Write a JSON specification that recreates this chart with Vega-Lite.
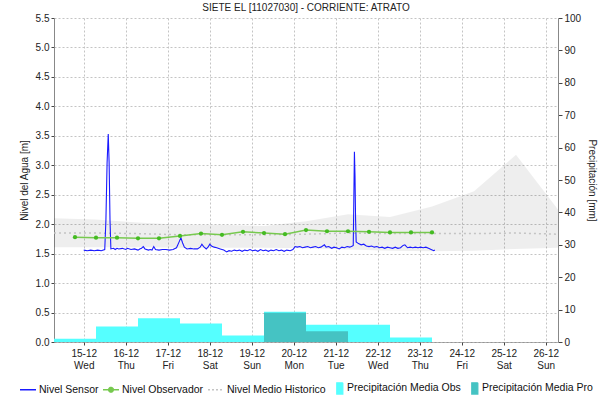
{
  "$schema": "https://vega.github.io/schema/vega-lite/v6.json",
  "width": 504,
  "height": 324,
  "autosize": {"type": "none"},
  "padding": {"left": 54, "top": 18, "right": 45, "bottom": 62},
  "title": {"text": "SIETE EL [11027030] - CORRIENTE: ATRATO", "fontSize": 10, "fontWeight": "normal", "font": "Liberation Sans", "color": "#222222", "offset": 0, "anchor": "middle", "frame": "group"},
  "datasets": {
    "band": [
      {"t": "2021-12-14T07:00", "lo": 1.61, "hi": 2.1, "mean": 1.85},
      {"t": "2021-12-15T07:00", "lo": 1.61, "hi": 2.08, "mean": 1.85},
      {"t": "2021-12-16T07:00", "lo": 1.61, "hi": 2.03, "mean": 1.84},
      {"t": "2021-12-17T07:00", "lo": 1.6, "hi": 1.99, "mean": 1.82},
      {"t": "2021-12-18T07:00", "lo": 1.6, "hi": 1.99, "mean": 1.82},
      {"t": "2021-12-19T07:00", "lo": 1.6, "hi": 1.97, "mean": 1.82},
      {"t": "2021-12-20T07:00", "lo": 1.59, "hi": 2.05, "mean": 1.83},
      {"t": "2021-12-21T07:00", "lo": 1.57, "hi": 2.17, "mean": 1.85},
      {"t": "2021-12-22T07:00", "lo": 1.55, "hi": 2.12, "mean": 1.84},
      {"t": "2021-12-23T07:00", "lo": 1.54, "hi": 2.3, "mean": 1.84},
      {"t": "2021-12-24T07:00", "lo": 1.55, "hi": 2.56, "mean": 1.84},
      {"t": "2021-12-25T07:00", "lo": 1.58, "hi": 3.18, "mean": 1.85},
      {"t": "2021-12-26T07:00", "lo": 1.6, "hi": 2.25, "mean": 1.83}
    ],
    "sensor": [
      {"t": "2021-12-15T00:00", "v": 1.56}, {"t": "2021-12-15T02:00", "v": 1.55}, {"t": "2021-12-15T04:00", "v": 1.56},
      {"t": "2021-12-15T06:00", "v": 1.55}, {"t": "2021-12-15T08:00", "v": 1.56}, {"t": "2021-12-15T10:00", "v": 1.55},
      {"t": "2021-12-15T12:00", "v": 1.57}, {"t": "2021-12-15T12:40", "v": 2.07}, {"t": "2021-12-15T13:20", "v": 3.04},
      {"t": "2021-12-15T14:00", "v": 3.53}, {"t": "2021-12-15T14:30", "v": 3.04}, {"t": "2021-12-15T15:00", "v": 2.07},
      {"t": "2021-12-15T15:30", "v": 1.58}, {"t": "2021-12-15T17:00", "v": 1.59}, {"t": "2021-12-15T18:00", "v": 1.57},
      {"t": "2021-12-15T19:00", "v": 1.59}, {"t": "2021-12-15T20:00", "v": 1.58}, {"t": "2021-12-15T22:00", "v": 1.59},
      {"t": "2021-12-16T00:00", "v": 1.57}, {"t": "2021-12-16T01:00", "v": 1.59}, {"t": "2021-12-16T03:00", "v": 1.57},
      {"t": "2021-12-16T05:00", "v": 1.58}, {"t": "2021-12-16T07:00", "v": 1.56}, {"t": "2021-12-16T08:00", "v": 1.58},
      {"t": "2021-12-16T09:00", "v": 1.59}, {"t": "2021-12-16T10:00", "v": 1.62}, {"t": "2021-12-16T11:00", "v": 1.58},
      {"t": "2021-12-16T13:00", "v": 1.56}, {"t": "2021-12-16T14:00", "v": 1.57}, {"t": "2021-12-16T15:00", "v": 1.56},
      {"t": "2021-12-16T16:00", "v": 1.62}, {"t": "2021-12-16T17:00", "v": 1.57}, {"t": "2021-12-16T19:00", "v": 1.56},
      {"t": "2021-12-16T21:00", "v": 1.57}, {"t": "2021-12-16T23:00", "v": 1.57},
      {"t": "2021-12-17T01:00", "v": 1.56}, {"t": "2021-12-17T03:00", "v": 1.57}, {"t": "2021-12-17T05:00", "v": 1.6},
      {"t": "2021-12-17T06:30", "v": 1.7}, {"t": "2021-12-17T07:30", "v": 1.77}, {"t": "2021-12-17T08:30", "v": 1.68},
      {"t": "2021-12-17T09:30", "v": 1.61}, {"t": "2021-12-17T11:00", "v": 1.58}, {"t": "2021-12-17T13:00", "v": 1.59},
      {"t": "2021-12-17T15:00", "v": 1.58}, {"t": "2021-12-17T17:00", "v": 1.58}, {"t": "2021-12-17T18:30", "v": 1.61},
      {"t": "2021-12-17T19:30", "v": 1.66}, {"t": "2021-12-17T20:30", "v": 1.62}, {"t": "2021-12-17T22:00", "v": 1.58},
      {"t": "2021-12-17T23:00", "v": 1.61},
      {"t": "2021-12-18T00:00", "v": 1.66}, {"t": "2021-12-18T01:00", "v": 1.63}, {"t": "2021-12-18T02:30", "v": 1.61},
      {"t": "2021-12-18T04:00", "v": 1.6}, {"t": "2021-12-18T06:00", "v": 1.58}, {"t": "2021-12-18T08:00", "v": 1.56},
      {"t": "2021-12-18T09:40", "v": 1.53}, {"t": "2021-12-18T11:00", "v": 1.55}, {"t": "2021-12-18T12:30", "v": 1.54},
      {"t": "2021-12-18T14:00", "v": 1.56}, {"t": "2021-12-18T15:30", "v": 1.55}, {"t": "2021-12-18T17:00", "v": 1.56},
      {"t": "2021-12-18T18:30", "v": 1.54}, {"t": "2021-12-18T20:00", "v": 1.56}, {"t": "2021-12-18T21:30", "v": 1.55},
      {"t": "2021-12-18T23:00", "v": 1.57},
      {"t": "2021-12-19T00:30", "v": 1.55}, {"t": "2021-12-19T02:00", "v": 1.56}, {"t": "2021-12-19T03:30", "v": 1.54},
      {"t": "2021-12-19T05:00", "v": 1.57}, {"t": "2021-12-19T06:30", "v": 1.55}, {"t": "2021-12-19T08:00", "v": 1.56},
      {"t": "2021-12-19T09:30", "v": 1.54}, {"t": "2021-12-19T11:00", "v": 1.56}, {"t": "2021-12-19T12:30", "v": 1.55},
      {"t": "2021-12-19T14:00", "v": 1.57}, {"t": "2021-12-19T15:30", "v": 1.55}, {"t": "2021-12-19T17:00", "v": 1.56},
      {"t": "2021-12-19T18:30", "v": 1.54}, {"t": "2021-12-19T20:00", "v": 1.56}, {"t": "2021-12-19T22:00", "v": 1.55},
      {"t": "2021-12-19T23:30", "v": 1.57},
      {"t": "2021-12-20T00:45", "v": 1.62}, {"t": "2021-12-20T02:00", "v": 1.61}, {"t": "2021-12-20T03:30", "v": 1.62},
      {"t": "2021-12-20T05:00", "v": 1.6}, {"t": "2021-12-20T06:30", "v": 1.61}, {"t": "2021-12-20T08:00", "v": 1.62},
      {"t": "2021-12-20T09:30", "v": 1.6}, {"t": "2021-12-20T11:00", "v": 1.61}, {"t": "2021-12-20T12:30", "v": 1.62},
      {"t": "2021-12-20T14:00", "v": 1.6}, {"t": "2021-12-20T15:30", "v": 1.61}, {"t": "2021-12-20T17:30", "v": 1.65},
      {"t": "2021-12-20T18:30", "v": 1.61}, {"t": "2021-12-20T20:00", "v": 1.62}, {"t": "2021-12-20T21:40", "v": 1.59},
      {"t": "2021-12-20T23:00", "v": 1.61},
      {"t": "2021-12-21T00:30", "v": 1.6}, {"t": "2021-12-21T02:00", "v": 1.58}, {"t": "2021-12-21T03:30", "v": 1.61},
      {"t": "2021-12-21T05:00", "v": 1.6}, {"t": "2021-12-21T06:30", "v": 1.62}, {"t": "2021-12-21T08:00", "v": 1.61},
      {"t": "2021-12-21T09:30", "v": 1.63}, {"t": "2021-12-21T10:00", "v": 1.64}, {"t": "2021-12-21T10:20", "v": 2.42},
      {"t": "2021-12-21T10:40", "v": 3.23}, {"t": "2021-12-21T11:00", "v": 2.82}, {"t": "2021-12-21T11:20", "v": 2.08},
      {"t": "2021-12-21T11:40", "v": 1.7}, {"t": "2021-12-21T13:00", "v": 1.67}, {"t": "2021-12-21T14:30", "v": 1.65},
      {"t": "2021-12-21T16:00", "v": 1.66}, {"t": "2021-12-21T17:30", "v": 1.63}, {"t": "2021-12-21T19:00", "v": 1.62},
      {"t": "2021-12-21T20:30", "v": 1.63}, {"t": "2021-12-21T22:00", "v": 1.61}, {"t": "2021-12-21T23:30", "v": 1.62},
      {"t": "2021-12-22T01:00", "v": 1.6}, {"t": "2021-12-22T02:30", "v": 1.61}, {"t": "2021-12-22T04:00", "v": 1.59},
      {"t": "2021-12-22T05:30", "v": 1.61}, {"t": "2021-12-22T07:00", "v": 1.6}, {"t": "2021-12-22T08:30", "v": 1.59},
      {"t": "2021-12-22T10:00", "v": 1.61}, {"t": "2021-12-22T11:30", "v": 1.59}, {"t": "2021-12-22T13:00", "v": 1.6},
      {"t": "2021-12-22T14:30", "v": 1.64}, {"t": "2021-12-22T15:30", "v": 1.65}, {"t": "2021-12-22T17:00", "v": 1.6},
      {"t": "2021-12-22T18:30", "v": 1.61}, {"t": "2021-12-22T20:00", "v": 1.6}, {"t": "2021-12-22T21:30", "v": 1.61},
      {"t": "2021-12-22T23:00", "v": 1.6},
      {"t": "2021-12-23T00:30", "v": 1.61}, {"t": "2021-12-23T02:00", "v": 1.6}, {"t": "2021-12-23T03:30", "v": 1.61},
      {"t": "2021-12-23T05:00", "v": 1.59}, {"t": "2021-12-23T06:30", "v": 1.57}, {"t": "2021-12-23T08:00", "v": 1.55},
      {"t": "2021-12-23T08:40", "v": 1.56}
    ],
    "observer": [
      {"t": "2021-12-14T19:00", "v": 1.78}, {"t": "2021-12-15T07:00", "v": 1.77}, {"t": "2021-12-15T19:00", "v": 1.77},
      {"t": "2021-12-16T07:00", "v": 1.76}, {"t": "2021-12-16T19:00", "v": 1.76}, {"t": "2021-12-17T07:00", "v": 1.8},
      {"t": "2021-12-17T19:00", "v": 1.84}, {"t": "2021-12-18T07:00", "v": 1.82}, {"t": "2021-12-18T19:00", "v": 1.87},
      {"t": "2021-12-19T07:00", "v": 1.85}, {"t": "2021-12-19T19:00", "v": 1.83}, {"t": "2021-12-20T07:00", "v": 1.9},
      {"t": "2021-12-20T19:00", "v": 1.88}, {"t": "2021-12-21T07:00", "v": 1.88}, {"t": "2021-12-21T19:00", "v": 1.87},
      {"t": "2021-12-22T07:00", "v": 1.86}, {"t": "2021-12-22T19:00", "v": 1.86}, {"t": "2021-12-23T07:00", "v": 1.86}
    ],
    "precip": [
      {"s": "2021-12-14T07:00", "e": "2021-12-15T07:00", "obs": 1.0},
      {"s": "2021-12-15T07:00", "e": "2021-12-16T07:00", "obs": 4.8},
      {"s": "2021-12-16T07:00", "e": "2021-12-17T07:00", "obs": 7.3},
      {"s": "2021-12-17T07:00", "e": "2021-12-18T07:00", "obs": 5.7},
      {"s": "2021-12-18T07:00", "e": "2021-12-19T07:00", "obs": 2.0},
      {"s": "2021-12-19T07:00", "e": "2021-12-20T07:00", "obs": 9.3},
      {"s": "2021-12-20T07:00", "e": "2021-12-21T07:00", "obs": 5.3},
      {"s": "2021-12-21T07:00", "e": "2021-12-22T07:00", "obs": 5.3},
      {"s": "2021-12-22T07:00", "e": "2021-12-23T07:00", "obs": 1.4}
    ],
    "precipPro": [
      {"s": "2021-12-19T07:00", "e": "2021-12-20T07:00", "pro": 9.0},
      {"s": "2021-12-20T07:00", "e": "2021-12-21T07:00", "pro": 3.3}
    ]
  },
  "layer": [
    {
      "layer": [
        {
          "data": {"name": "band"},
          "mark": {"type": "area", "color": "#000000", "opacity": 0.065},
          "encoding": {
            "x": {"field": "t", "type": "temporal",
              "scale": {"domain": [{"year": 2021, "month": 12, "date": 14, "hours": 7}, {"year": 2021, "month": 12, "date": 26, "hours": 7}]},
              "axis": {"title": null, "tickCount": {"interval": "day", "step": 1},
                "labelExpr": "[timeFormat(datum.value, '%d-%m'), timeFormat(datum.value, '%a')]",
                "labelLineHeight": 12, "labelOverlap": false, "labelFlush": false,
                "grid": true, "tickSize": 3, "labelPadding": 3, "domainColor": "#666666", "domainDash": [1, 1]}},
            "y": {"field": "lo", "type": "quantitative",
              "scale": {"domain": [0, 5.5], "nice": false, "zero": true},
              "axis": {"title": "Nivel del Agua [m]", "values": [0, 0.5, 1, 1.5, 2, 2.5, 3, 3.5, 4, 4.5, 5, 5.5], "tickCount": 12, "format": ".1f",
                "labelOverlap": false, "labelSeparation": 0, "labelFlush": false,
                "grid": true, "tickSize": 3, "labelPadding": 2, "titlePadding": 6}},
            "y2": {"field": "hi"}
          }
        },
        {
          "data": {"name": "band"},
          "mark": {"type": "line", "strokeWidth": 1.5, "strokeDash": [2, 3]},
          "encoding": {
            "x": {"field": "t", "type": "temporal"},
            "y": {"field": "mean", "type": "quantitative"},
            "color": {"datum": "Nivel Medio Historico"}
          }
        },
        {
          "mark": {"type": "rule", "color": "#6677a6", "strokeWidth": 2, "strokeDash": [8, 4]},
          "encoding": {"y": {"datum": 5.0}}
        },
        {
          "mark": {"type": "rule", "color": "#ff44ff", "strokeWidth": 2, "strokeDash": [8, 4]},
          "encoding": {"y": {"datum": 0.92}}
        },
        {
          "mark": {"type": "text", "text": "Maximo", "align": "left", "baseline": "alphabetic", "dy": -1.5, "fontSize": 10, "font": "Liberation Sans", "color": "#111111"},
          "encoding": {"x": {"datum": {"year": 2021, "month": 12, "date": 14, "hours": 19}}, "y": {"datum": 5.0}}
        },
        {
          "mark": {"type": "text", "text": "Nivel Bajo", "align": "left", "baseline": "alphabetic", "dy": -3, "fontSize": 10, "font": "Liberation Sans", "color": "#111111"},
          "encoding": {"x": {"datum": {"year": 2021, "month": 12, "date": 14, "hours": 19}}, "y": {"datum": 0.92}}
        },
        {
          "data": {"name": "sensor"},
          "mark": {"type": "line", "strokeWidth": 1.1},
          "encoding": {
            "x": {"field": "t", "type": "temporal"},
            "y": {"field": "v", "type": "quantitative"},
            "color": {"datum": "Nivel Sensor",
              "scale": {"domain": ["Nivel Sensor", "Nivel Observador", "Nivel Medio Historico", "Precipitación Media Obs", "Precipitación Media Pro"],
                "range": ["#1a1aff", "#77c94f", "#c4c4c4", "#55ffff", "#45c3c3"]},
              "legend": {"title": null, "orient": "bottom", "direction": "horizontal", "symbolSize": 256, "labelFontSize": 10.5, "labelOffset": 2, "columnPadding": 1, "offset": 9,
                "encode": {"symbols": {"update": {
                  "shape": {"signal": "datum.value === 'Nivel Observador' ? 'M-1,0H1M-0.3,0A0.3,0.3,0,1,1,0.3,0A0.3,0.3,0,1,1,-0.3,0Z' : (indexof(datum.value, 'Precipitación') === 0 ? 'M0.1,-0.7H0.85V0.7H0.1Z' : 'stroke')"},
                  "fill": {"signal": "(indexof(datum.value, 'Precipitación') === 0 || datum.value === 'Nivel Observador') ? scale('color', datum.value) : 'transparent'"},
                  "stroke": {"signal": "indexof(datum.value, 'Precipitación') === 0 ? 'transparent' : scale('color', datum.value)"},
                  "strokeDash": {"signal": "datum.value === 'Nivel Medio Historico' ? [2, 2] : [1, 0]"},
                  "strokeWidth": {"value": 1.3},
                  "opacity": {"value": 1}
                }}}}
            }
          }
        },
        {
          "data": {"name": "observer"},
          "mark": {"type": "line", "strokeWidth": 1.5},
          "encoding": {
            "x": {"field": "t", "type": "temporal"},
            "y": {"field": "v", "type": "quantitative"},
            "color": {"datum": "Nivel Observador"}
          }
        },
        {
          "data": {"name": "observer"},
          "mark": {"type": "point", "filled": true, "size": 18, "color": "#44bb22", "opacity": 1},
          "encoding": {
            "x": {"field": "t", "type": "temporal"},
            "y": {"field": "v", "type": "quantitative"}
          }
        },
        {
          "mark": {"type": "rule", "color": "#ff4040", "strokeWidth": 1},
          "encoding": {"x": {"datum": {"year": 2021, "month": 12, "date": 23, "hours": 9, "minutes": 15}}}
        }
      ]
    },
    {
      "layer": [
        {
          "data": {"name": "precip"},
          "mark": {"type": "bar", "opacity": 1},
          "encoding": {
            "x": {"field": "s", "type": "temporal"},
            "x2": {"field": "e"},
            "y": {"field": "obs", "type": "quantitative",
              "scale": {"domain": [0, 100], "nice": false},
              "axis": {"orient": "right", "title": "Precipitación [mm]", "values": [0, 10, 20, 30, 40, 50, 60, 70, 80, 90, 100], "tickCount": 11,
                "labelOverlap": false, "labelSeparation": 0, "labelFlush": false,
                "grid": false, "tickSize": 4, "labelPadding": 2, "titlePadding": 6}},
            "y2": {"datum": 0},
            "color": {"datum": "Precipitación Media Obs"}
          }
        },
        {
          "data": {"name": "precipPro"},
          "mark": {"type": "bar", "opacity": 1},
          "encoding": {
            "x": {"field": "s", "type": "temporal"},
            "x2": {"field": "e"},
            "y": {"field": "pro", "type": "quantitative"},
            "y2": {"datum": 0},
            "color": {"datum": "Precipitación Media Pro"}
          }
        }
      ]
    }
  ],
  "resolve": {"scale": {"y": "independent"}},
  "config": {
    "view": {"stroke": null},
    "font": "Liberation Sans",
    "axis": {"labelFont": "Liberation Sans", "titleFont": "Liberation Sans", "labelFontSize": 10, "titleFontSize": 10,
      "titleFontWeight": "normal", "labelColor": "#222222", "titleColor": "#222222", "tickColor": "#444444",
      "domainColor": "#888888", "gridColor": "#c4c4c4", "gridDash": [2, 2], "gridWidth": 1},
    "axisY": {"labelOverlap": false},
    "legend": {"labelFont": "Liberation Sans", "labelColor": "#111111", "layout": {"bottom": {"anchor": "middle", "direction": "horizontal"}}}
  }
}
